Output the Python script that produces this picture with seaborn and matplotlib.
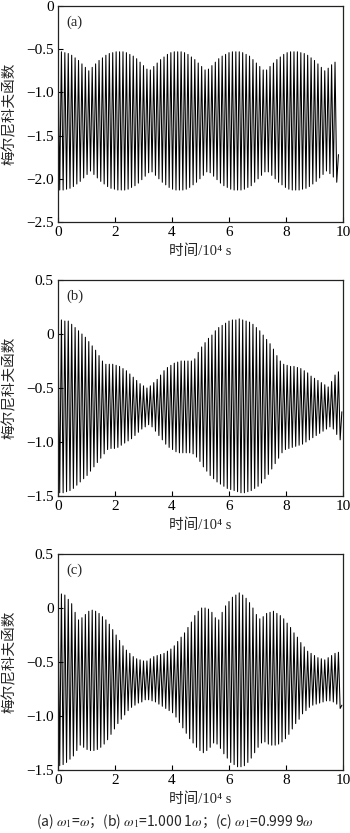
import numpy as np
import pandas as pd
import matplotlib
matplotlib.use("Agg")
import matplotlib.pyplot as plt
import seaborn as sns

# ---------------- data ----------------
cycle_period = 0.12          # time between successive peaks, 10^4 s

# panel (a): omega1 = omega
a_upper = [-0.53, -0.53, -0.54, -0.55, -0.57, -0.60, -0.63, -0.67, -0.71, -0.75,
           -0.71, -0.67, -0.63, -0.60, -0.57, -0.55, -0.54, -0.53, -0.53, -0.53,
           -0.54, -0.56, -0.58, -0.61, -0.65, -0.69, -0.73, -0.74, -0.70, -0.66,
           -0.62, -0.59, -0.56, -0.54, -0.53, -0.53, -0.53, -0.54, -0.56, -0.59,
           -0.62, -0.66, -0.70, -0.74, -0.73, -0.69, -0.65, -0.61, -0.58, -0.56,
           -0.54, -0.53, -0.53, -0.53, -0.54, -0.56, -0.58, -0.62, -0.66, -0.70,
           -0.74, -0.74, -0.70, -0.66, -0.62, -0.59, -0.56, -0.54, -0.53, -0.53,
           -0.53, -0.54, -0.55, -0.57, -0.60, -0.63, -0.67, -0.71, -0.75, -0.72,
           -0.68, -0.65]
a_lower = [-2.13, -2.13, -2.12, -2.11, -2.09, -2.06, -2.03, -1.99, -1.95, -1.91,
           -1.95, -1.99, -2.03, -2.06, -2.09, -2.11, -2.12, -2.13, -2.13, -2.13,
           -2.12, -2.10, -2.08, -2.05, -2.01, -1.97, -1.93, -1.92, -1.96, -2.00,
           -2.04, -2.07, -2.10, -2.12, -2.13, -2.13, -2.13, -2.12, -2.10, -2.07,
           -2.04, -2.00, -1.96, -1.92, -1.93, -1.97, -2.01, -2.05, -2.08, -2.10,
           -2.12, -2.13, -2.13, -2.13, -2.12, -2.10, -2.08, -2.04, -2.00, -1.96,
           -1.92, -1.92, -1.96, -2.00, -2.04, -2.07, -2.10, -2.12, -2.13, -2.13,
           -2.13, -2.12, -2.11, -2.09, -2.06, -2.03, -1.99, -1.95, -1.91, -1.94,
           -1.98, -2.04]
a_end = -1.72

# panel (b): omega1 = 1.0001 omega
b_upper = [0.13, 0.13, 0.12, 0.12, 0.09, 0.06, 0.03, 0.00, -0.03, -0.07,
           -0.11, -0.15, -0.20, -0.25, -0.28, -0.28, -0.28, -0.29, -0.30, -0.32,
           -0.34, -0.37, -0.40, -0.43, -0.46, -0.48, -0.50, -0.48, -0.45, -0.42,
           -0.38, -0.34, -0.31, -0.29, -0.27, -0.26, -0.25, -0.25, -0.25, -0.25,
           -0.23, -0.17, -0.12, -0.08, -0.04, -0.01, 0.03, 0.06, 0.08, 0.10,
           0.12, 0.13, 0.13, 0.14, 0.13, 0.12, 0.11, 0.09, 0.06, 0.03,
           -0.01, -0.05, -0.09, -0.14, -0.20, -0.25, -0.28, -0.29, -0.30, -0.30,
           -0.31, -0.32, -0.34, -0.36, -0.39, -0.41, -0.43, -0.45, -0.47, -0.49,
           -0.44, -0.38, -0.35]
b_lower = [-1.47, -1.47, -1.46, -1.45, -1.43, -1.40, -1.37, -1.34, -1.31, -1.27,
           -1.23, -1.19, -1.15, -1.11, -1.07, -1.06, -1.06, -1.05, -1.03, -1.01,
           -0.99, -0.97, -0.94, -0.91, -0.88, -0.86, -0.84, -0.86, -0.90, -0.94,
           -0.98, -1.02, -1.05, -1.07, -1.09, -1.10, -1.10, -1.10, -1.10, -1.11,
           -1.14, -1.18, -1.23, -1.27, -1.31, -1.34, -1.37, -1.39, -1.41, -1.43,
           -1.44, -1.45, -1.46, -1.47, -1.47, -1.46, -1.45, -1.43, -1.41, -1.38,
           -1.34, -1.30, -1.25, -1.20, -1.15, -1.10, -1.07, -1.06, -1.05, -1.04,
           -1.03, -1.02, -1.00, -0.98, -0.96, -0.94, -0.92, -0.90, -0.88, -0.86,
           -0.88, -0.93, -0.98]
b_end = -0.72

# panel (c): omega1 = 0.9999 omega
c_upper = [0.14, 0.13, 0.12, 0.08, 0.04, -0.04, -0.11, -0.09, -0.06, -0.03,
           -0.02, -0.03, -0.05, -0.08, -0.11, -0.15, -0.20, -0.25, -0.30, -0.35,
           -0.39, -0.42, -0.45, -0.47, -0.48, -0.49, -0.49, -0.47, -0.45, -0.44,
           -0.43, -0.42, -0.40, -0.38, -0.35, -0.31, -0.27, -0.23, -0.18, -0.13,
           -0.07, -0.03, 0.00, 0.00, -0.01, -0.04, -0.09, -0.11, -0.04, 0.02,
           0.06, 0.10, 0.12, 0.14, 0.12, 0.09, 0.05, 0.00, -0.06, -0.10,
           -0.08, -0.05, -0.04, -0.03, -0.05, -0.07, -0.10, -0.14, -0.18, -0.23,
           -0.27, -0.32, -0.36, -0.40, -0.42, -0.44, -0.46, -0.47, -0.48, -0.46,
           -0.44, -0.42, -0.41]
c_lower = [-1.46, -1.45, -1.43, -1.40, -1.37, -1.32, -1.27, -1.29, -1.31, -1.32,
           -1.32, -1.31, -1.29, -1.26, -1.22, -1.17, -1.12, -1.07, -1.03, -0.99,
           -0.95, -0.92, -0.90, -0.88, -0.87, -0.85, -0.85, -0.86, -0.87, -0.89,
           -0.91, -0.93, -0.95, -0.97, -1.01, -1.06, -1.11, -1.16, -1.21, -1.25,
           -1.29, -1.32, -1.34, -1.32, -1.29, -1.25, -1.26, -1.30, -1.35, -1.39,
           -1.43, -1.45, -1.47, -1.47, -1.46, -1.43, -1.39, -1.34, -1.29, -1.25,
           -1.24, -1.26, -1.27, -1.27, -1.26, -1.24, -1.21, -1.17, -1.12, -1.07,
           -1.03, -0.98, -0.95, -0.92, -0.90, -0.89, -0.88, -0.87, -0.86, -0.86,
           -0.87, -0.89, -0.93]
c_end = -0.90

panel_tags = ["(a)", "(b)", "(c)"]
y_limits = [(-2.5, 0.0), (-1.5, 0.5), (-1.5, 0.5)]
y_ticks = [[0.0, -0.5, -1.0, -1.5, -2.0, -2.5],
           [0.5, 0.0, -0.5, -1.0, -1.5],
           [0.5, 0.0, -0.5, -1.0, -1.5]]
x_ticks = [0, 2, 4, 6, 8, 10]
x_label = "时间/10⁴ s"
y_label = "梅尔尼科夫函数"
caption = r"(a) $\omega_1$=$\omega$；(b) $\omega_1$=1.000 1$\omega$；(c) $\omega_1$=0.999 9$\omega$"


def build_series(upper, lower, end_value):
    n = len(upper)
    t_peak = np.arange(n) * cycle_period
    t_trough = t_peak + cycle_period / 2
    t = np.empty(2 * n + 1)
    v = np.empty(2 * n + 1)
    t[0:2 * n:2] = t_peak
    t[1:2 * n:2] = t_trough
    v[0:2 * n:2] = upper
    v[1:2 * n:2] = lower
    t[-1] = t_trough[-1] + cycle_period / 2
    v[-1] = end_value
    return pd.DataFrame({"t": t, "M": v})


series = [build_series(a_upper, a_lower, a_end),
          build_series(b_upper, b_lower, b_end),
          build_series(c_upper, c_lower, c_end)]

# ---------------- style ----------------
sns.set_style("ticks")
plt.rcParams["font.family"] = ["Liberation Serif", "Noto Sans CJK SC", "DejaVu Sans"]
plt.rcParams["mathtext.fontset"] = "stix"
plt.rcParams["axes.unicode_minus"] = True

fig = plt.figure(figsize=(3.5, 8.33), dpi=100)
W, H = 350.0, 833.0
boxes = [(58, 6, 343, 222), (58, 280, 343, 496), (58, 554, 343, 770)]

for i, (df, (x0, y0, x1, y1)) in enumerate(zip(series, boxes)):
    ax = fig.add_axes([x0 / W, 1 - y1 / H, (x1 - x0) / W, (y1 - y0) / H])
    sns.lineplot(data=df, x="t", y="M", ax=ax, color="black", linewidth=0.75,
                 estimator=None, sort=False, legend=False)
    ax.set_xlim(0, 10)
    ax.set_ylim(*y_limits[i])
    ax.set_xticks(x_ticks)
    ax.set_xticklabels([str(v) for v in x_ticks])
    ax.set_yticks(y_ticks[i])
    ax.set_yticklabels(["0" if v == 0 else f"{v:.1f}".replace("-", "\u2212")
                        for v in y_ticks[i]])
    ax.tick_params(direction="in", length=3.5, width=0.8, labelsize=11,
                   colors="black", pad=3)
    for s in ax.spines.values():
        s.set_linewidth(0.9)
        s.set_color("#222222")
    ax.set_xlabel(x_label, fontsize=10.5,
                  family=["Liberation Serif", "Noto Sans CJK SC", "DejaVu Sans"])
    ax.xaxis.set_label_coords(0.5, -0.105)
    ax.set_ylabel(y_label, fontsize=10.5, family=["Noto Sans CJK SC"])
    ax.yaxis.set_label_coords(-0.143, 0.5)
    ax.text(0.03, 0.955, panel_tags[i], transform=ax.transAxes, ha="left",
            va="top", fontsize=10.5, family="Liberation Serif")

fig.text(0.5, 1 - 822 / H, caption, ha="center", va="center", fontsize=10,
         family="Noto Sans CJK SC")

fig.savefig("out.png", dpi=100, facecolor="white")
